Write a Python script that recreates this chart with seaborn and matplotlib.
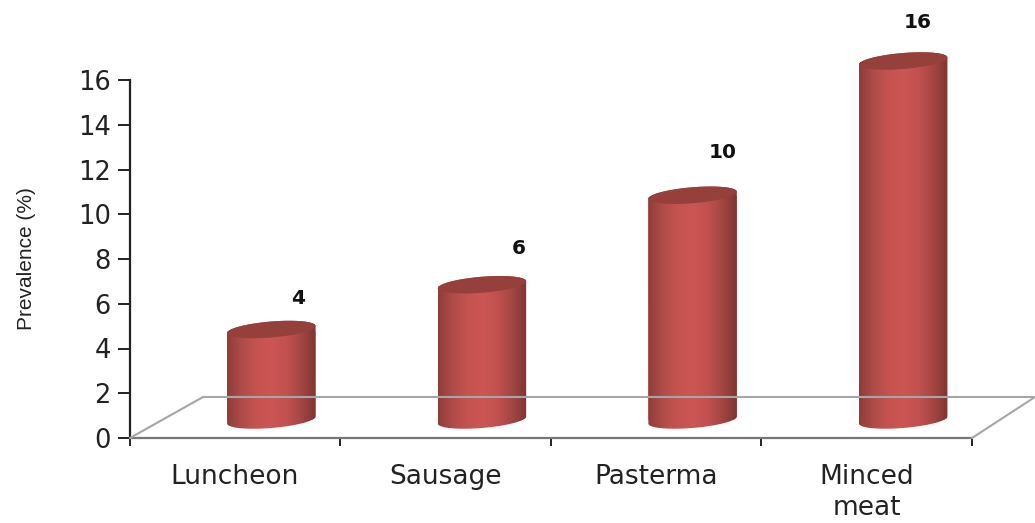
import numpy as np
import pandas as pd
import matplotlib
matplotlib.use("Agg")
import matplotlib.pyplot as plt
from matplotlib.path import Path
from matplotlib.patches import PathPatch
from matplotlib.colors import LinearSegmentedColormap
import seaborn as sns

categories = ["Luncheon", "Sausage", "Pasterma", "Minced\nmeat"]
prevalence = [4, 6, 10, 16]
y_ticks = [0, 2, 4, 6, 8, 10, 12, 14, 16]
y_label = "Prevalence (%)"

W, H = 1035, 523
sns.set_theme(style="white")
plt.rcParams["font.family"] = ["DejaVu Sans"]
fig = plt.figure(figsize=(W / 100, H / 100), dpi=100, facecolor="white")


def box(l, t, r, b):
    return [l / W, 1 - b / H, (r - l) / W, (b - t) / H]


# visible frame
ax = fig.add_axes(box(129.5, 80, 972, 438))
ax.set_xlim(0, 4)
ax.set_ylim(0, 16)
for s in ("top", "right"):
    ax.spines[s].set_visible(False)
ax.spines["left"].set_color("#222222")
ax.spines["left"].set_linewidth(1.6)
ax.spines["bottom"].set_color("#777777")
ax.spines["bottom"].set_linewidth(1.6)
ax.set_yticks(y_ticks)
ax.set_xticks(range(5))
ax.set_xticklabels([])
ax.tick_params(axis="y", length=8.5, width=1.4, color="#222222", pad=5,
               labelsize=18.5, labelcolor="#222222", left=True)
ax.tick_params(axis="x", length=6, width=1.4, color="#222222", bottom=True)
ax.patch.set_alpha(0)
for i, c in enumerate(categories):
    ax.annotate(c, (i + 0.5, 0), xytext=(0, -26), textcoords="offset pixels",
                xycoords=ax.get_xaxis_transform(), ha="center", va="top",
                fontsize=19, color="#222222", linespacing=1.25)

fig.text(26 / W, 1 - 259 / H, y_label, rotation=90, ha="center", va="center",
         fontsize=15, color="#222222", family=["Liberation Sans"])

# 3-D floor
for xs, ys in [((130, 203), (438, 397)), ((203, 1035), (397, 397)), ((972, 1035), (438, 397))]:
    fig.add_artist(plt.Line2D(np.array(xs) / W, 1 - np.array(ys) / H,
                              color="#a6a6a6", lw=1.5, transform=fig.transFigure, zorder=1))

# bars, on an axes shifted back-and-right as the chart's depth
bar_ax = fig.add_axes(box(129.5 + 36.5, 80 - 18, 972 + 36.5, 438 - 18))
bar_ax.patch.set_alpha(0)
df = pd.DataFrame({"category": categories, "prevalence": prevalence})
sns.barplot(df, x="category", y="prevalence", ax=bar_ax, width=0.42,
            color="#b84a48", saturation=1, linewidth=0)
bar_ax.set_xlim(-0.5, 3.5)
bar_ax.set_ylim(0, 16)
bar_ax.axis("off")

px_x = 842.5 / 4
px_y = 358 / 16
b_px, k = 8.0, 0.08
t_vals = np.linspace(0, np.pi, 80)
shade = LinearSegmentedColormap.from_list(
    "cyl", ["#8f3d3a", "#b04c49", "#c65350", "#cc5654", "#c25150", "#a44643", "#7f3532"])
grad = np.linspace(0, 1, 256).reshape(1, -1)

for bar, val in zip(list(bar_ax.patches), prevalence):
    x0, w = bar.get_x(), bar.get_width()
    cx = x0 + w / 2
    h = bar.get_height()
    a = w / 2
    top_y = h + 1 / px_y

    def arc(yc, ts):
        xs = cx + a * np.cos(ts)
        dy = (b_px * np.sin(ts) + k * (a * px_x) * np.cos(ts)) / px_y
        return xs, yc + dy

    tx, ty = arc(top_y, t_vals)                 # top arc right to left
    bx, by = arc(0, t_vals + np.pi)             # bottom arc left to right
    verts = np.r_[np.c_[tx, ty], np.c_[bx, by], [[tx[0], ty[0]]]]
    outline = PathPatch(Path(verts), transform=bar_ax.transData, fc="none", ec="none")
    outline.set_clip_on(False)
    bar_ax.add_patch(outline)
    bar.set_clip_path(outline)
    im = bar_ax.imshow(grad, cmap=shade, aspect="auto", zorder=3,
                       extent=(x0, x0 + w, -14 / px_y, top_y + 14 / px_y))
    im.set_clip_path(outline)
    im.set_clip_box(fig.bbox)
    cap_t = np.linspace(0, 2 * np.pi, 120)
    cx_s, cy_s = arc(top_y, cap_t)
    bar_ax.fill(cx_s, cy_s, color="#96403c", lw=0, zorder=4, clip_on=False)

bar_ax.set_xlim(-0.5, 3.5)
bar_ax.set_ylim(0, 16)

# value labels
label_offsets = [(27, 32), (37, 37), (30, 44), (14, 40)]
for bar, val, (dx, dy) in zip(bar_ax.containers[0], prevalence, label_offsets):
    bar_ax.annotate(str(val), (bar.get_x() + bar.get_width() / 2, bar.get_height()),
                    xytext=(dx, dy), textcoords="offset pixels", ha="center", va="center",
                    fontsize=14.5, fontweight="bold", color="#111111", annotation_clip=False)

fig.savefig("out.png", dpi=100)
